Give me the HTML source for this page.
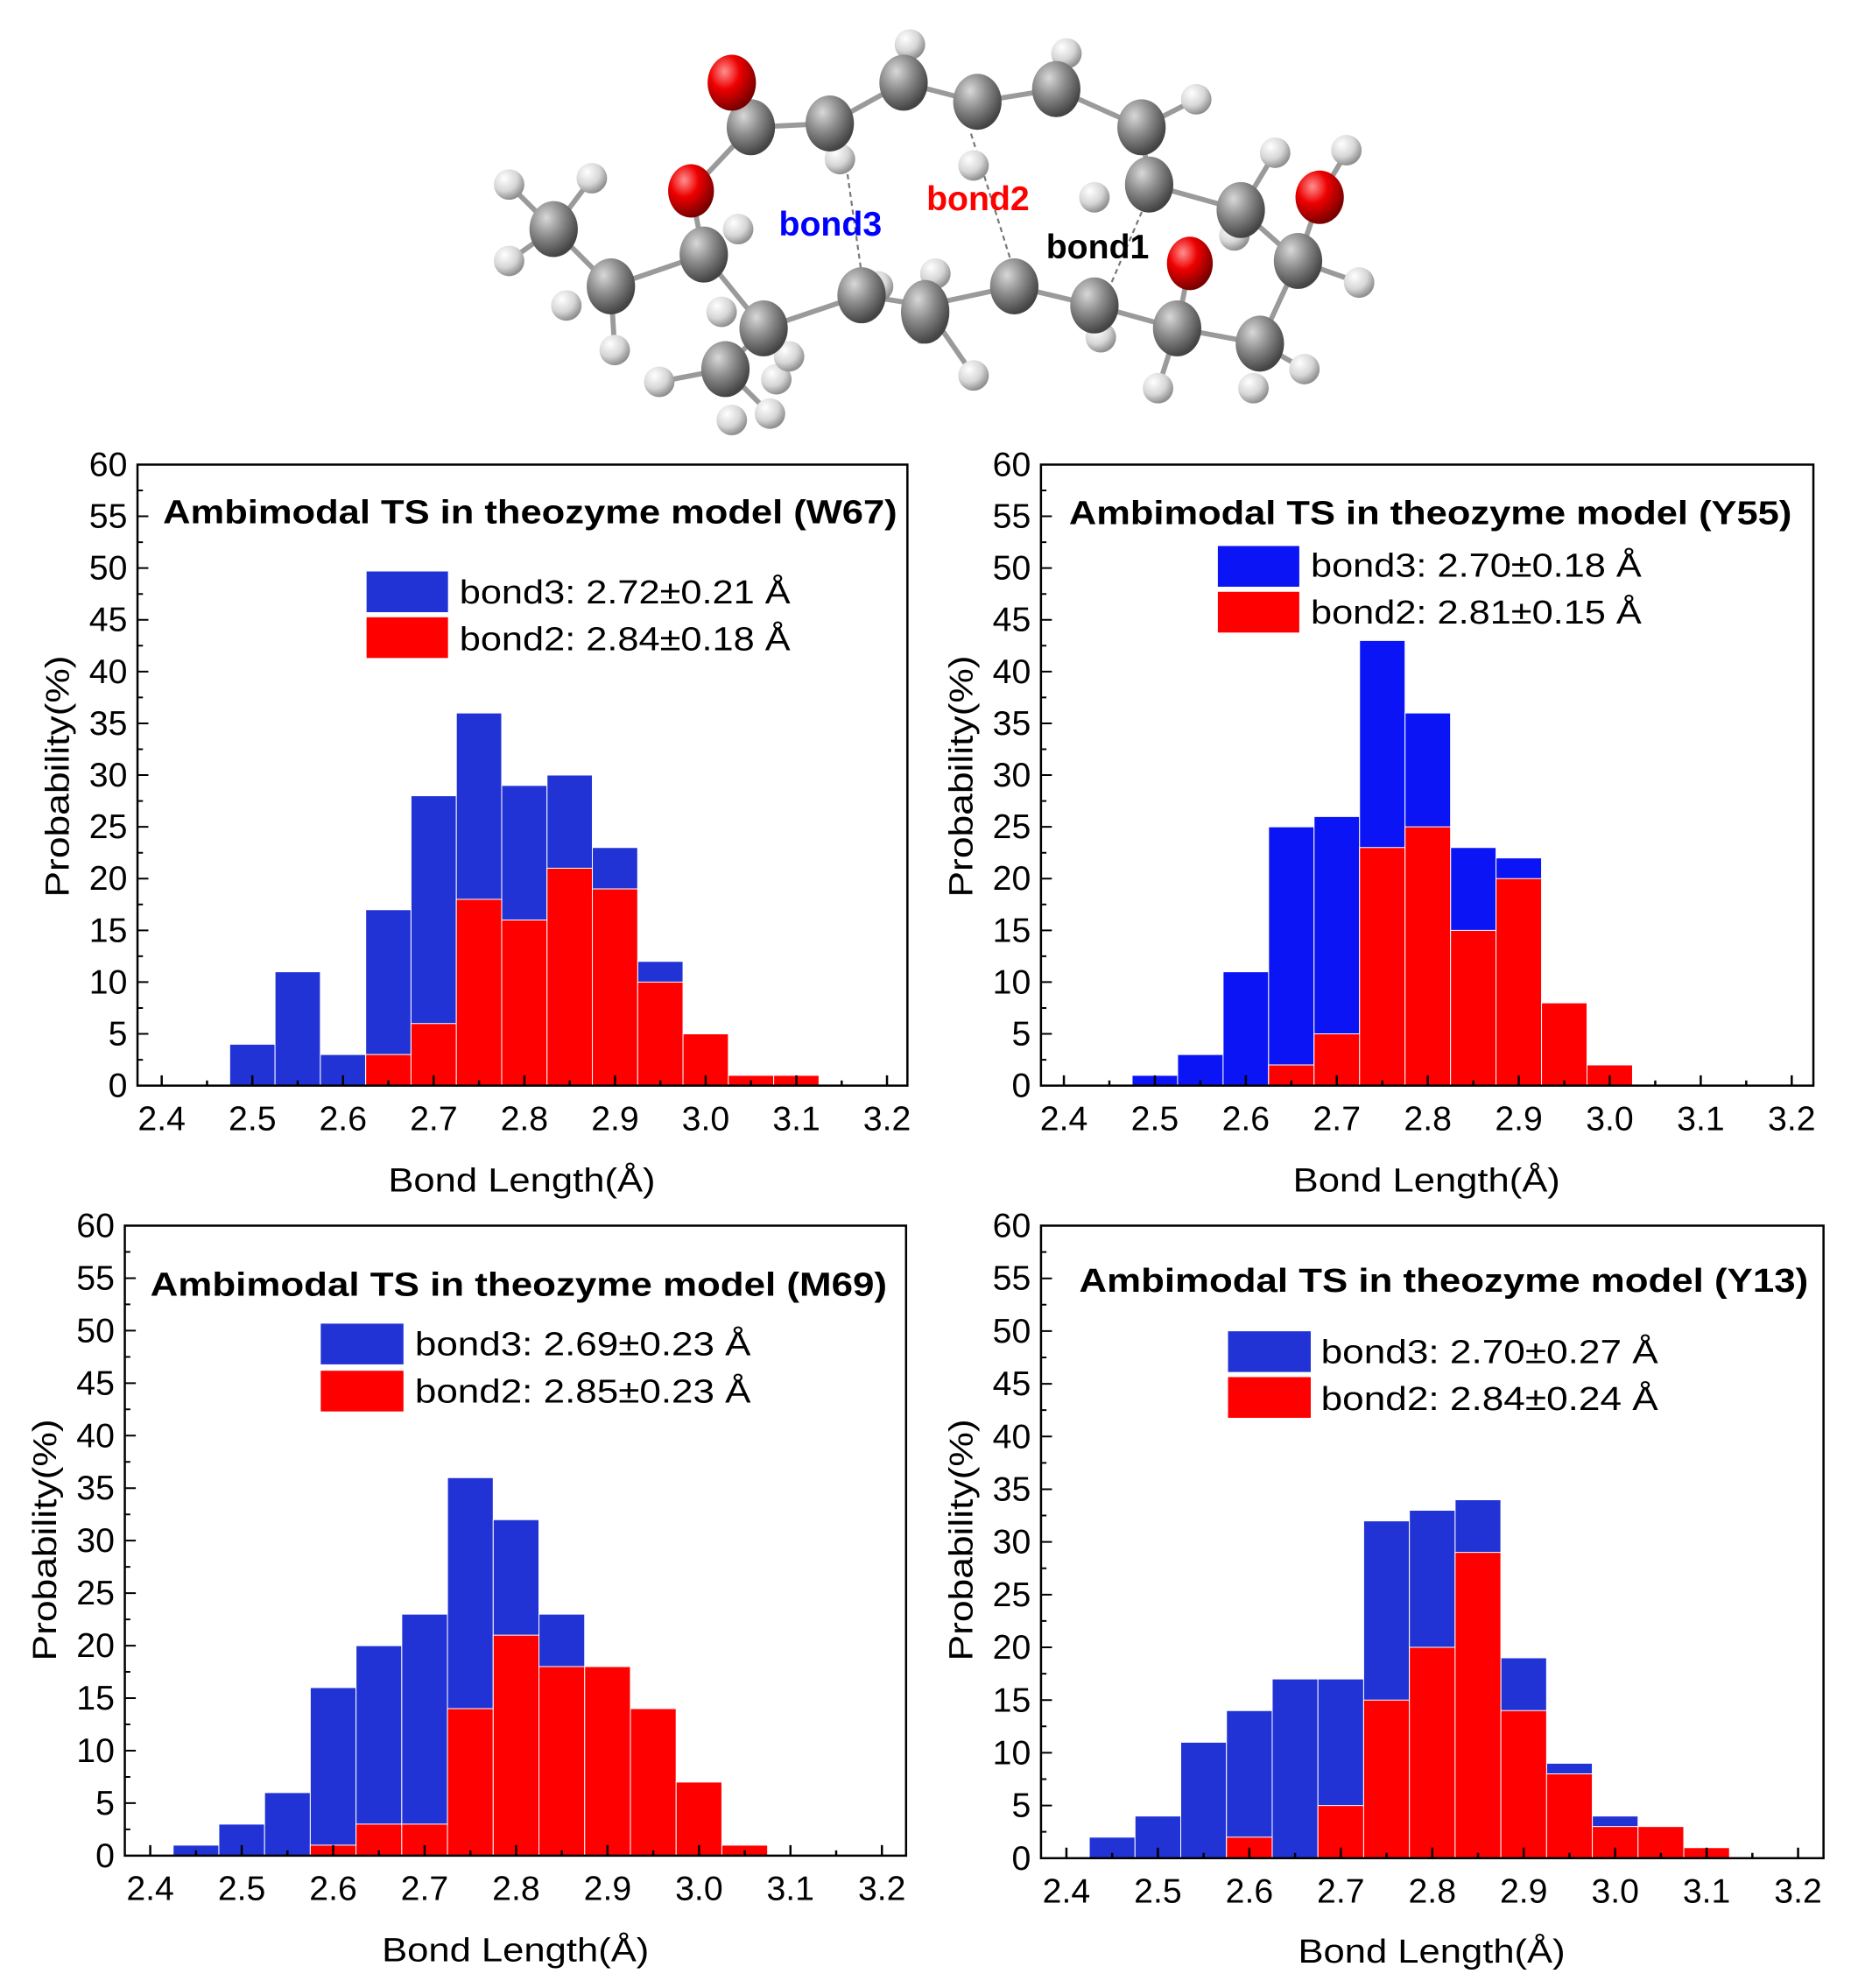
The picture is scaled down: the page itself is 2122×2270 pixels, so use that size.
<!DOCTYPE html>
<html><head><meta charset="utf-8"><style>html,body{margin:0;padding:0;background:#fff}svg{display:block}</style></head>
<body>
<svg width="2122" height="2270" viewBox="0 0 1460 1562" xmlns="http://www.w3.org/2000/svg" font-family="Liberation Sans, Arial, sans-serif">
<defs>
<radialGradient id="gC" cx="35%" cy="30%" r="70%"><stop offset="0" stop-color="#d8d8d8"/><stop offset="0.5" stop-color="#8a8a8a"/><stop offset="1" stop-color="#444"/></radialGradient>
<radialGradient id="gH" cx="35%" cy="30%" r="70%"><stop offset="0" stop-color="#fff"/><stop offset="0.6" stop-color="#d6d6d6"/><stop offset="1" stop-color="#909090"/></radialGradient>
<radialGradient id="gO" cx="35%" cy="30%" r="70%"><stop offset="0" stop-color="#ff9090"/><stop offset="0.45" stop-color="#ee0000"/><stop offset="1" stop-color="#7a0000"/></radialGradient>
</defs>
<rect width="1460" height="1562" fill="#fff"/>

<!-- molecule -->
<g stroke="#9a9a9a" stroke-width="4" fill="none">
<polyline points="575,65 590,100 652,97 710,65 768,80 830,70 897,100 903,145 975,165 1020,205 990,270 925,258 860,240 797,225 727,240 677,232 600,258 570,290"/>
<polyline points="590,100 543,150 553,200 600,258"/>
<polyline points="553,200 480,225 435,180"/>
<polyline points="1037,155 1020,205"/>
<polyline points="925,258 935,207"/>
<line x1="480" y1="225" x2="483" y2="275"/><line x1="435" y1="180" x2="400" y2="145"/><line x1="435" y1="180" x2="465" y2="140"/><line x1="435" y1="180" x2="400" y2="205"/>
<line x1="727" y1="240" x2="765" y2="295"/><line x1="727" y1="240" x2="723" y2="270"/><line x1="570" y1="290" x2="518" y2="300"/><line x1="570" y1="290" x2="605" y2="325"/>
<line x1="990" y1="270" x2="1025" y2="290"/><line x1="925" y1="258" x2="910" y2="305"/><line x1="1020" y1="205" x2="1068" y2="222"/><line x1="1037" y1="155" x2="1058" y2="120"/>
<line x1="710" y1="65" x2="715" y2="35"/><line x1="830" y1="70" x2="838" y2="42"/><line x1="897" y1="100" x2="940" y2="78"/><line x1="975" y1="165" x2="1002" y2="120"/>
</g>
<g stroke="#777" stroke-width="1.5" stroke-dasharray="4,3"><line x1="665" y1="130" x2="678" y2="222"/><line x1="763" y1="105" x2="795" y2="207"/><line x1="900" y1="160" x2="870" y2="230"/></g>
<g fill="url(#gH)">
<circle cx="715" cy="35" r="12"/><circle cx="838" cy="42" r="12"/><circle cx="940" cy="78" r="12"/><circle cx="1002" cy="120" r="12"/><circle cx="1058" cy="118" r="12"/><circle cx="1068" cy="222" r="12"/><circle cx="1025" cy="290" r="12"/><circle cx="985" cy="305" r="12"/><circle cx="910" cy="305" r="12"/><circle cx="865" cy="265" r="12"/><circle cx="860" cy="155" r="12"/><circle cx="765" cy="295" r="12"/><circle cx="605" cy="325" r="12"/><circle cx="518" cy="300" r="12"/><circle cx="483" cy="275" r="12"/><circle cx="445" cy="240" r="12"/><circle cx="400" cy="205" r="12"/><circle cx="400" cy="145" r="12"/><circle cx="465" cy="140" r="12"/><circle cx="580" cy="180" r="12"/><circle cx="567" cy="245" r="12"/><circle cx="610" cy="298" r="12"/><circle cx="660" cy="125" r="12"/><circle cx="765" cy="130" r="12"/><circle cx="970" cy="185" r="12"/><circle cx="690" cy="225" r="12"/><circle cx="735" cy="215" r="12"/><circle cx="575" cy="330" r="12"/><circle cx="620" cy="280" r="12"/>
</g>
<g fill="url(#gC)">
<ellipse cx="590" cy="100" rx="19" ry="22"/><ellipse cx="652" cy="97" rx="19" ry="22"/><ellipse cx="710" cy="65" rx="19" ry="22"/><ellipse cx="768" cy="80" rx="19" ry="22"/><ellipse cx="830" cy="70" rx="19" ry="22"/><ellipse cx="897" cy="100" rx="19" ry="22"/><ellipse cx="903" cy="145" rx="19" ry="22"/><ellipse cx="975" cy="165" rx="19" ry="22"/><ellipse cx="1020" cy="205" rx="19" ry="22"/><ellipse cx="990" cy="270" rx="19" ry="22"/><ellipse cx="925" cy="258" rx="19" ry="22"/><ellipse cx="860" cy="240" rx="19" ry="22"/><ellipse cx="797" cy="225" rx="19" ry="22"/><ellipse cx="727" cy="245" rx="19" ry="25"/><ellipse cx="677" cy="232" rx="19" ry="22"/><ellipse cx="600" cy="258" rx="19" ry="22"/><ellipse cx="570" cy="290" rx="19" ry="22"/><ellipse cx="553" cy="200" rx="19" ry="22"/><ellipse cx="480" cy="225" rx="19" ry="22"/><ellipse cx="435" cy="180" rx="19" ry="22"/>
</g>
<g fill="url(#gO)"><ellipse cx="575" cy="65" rx="19" ry="22"/><ellipse cx="543" cy="150" rx="18" ry="21"/><ellipse cx="935" cy="207" rx="18" ry="21"/><ellipse cx="1037" cy="155" rx="19" ry="21"/></g>
<g font-weight="bold" font-size="27"><text x="612" y="185" fill="#0000ff">bond3</text><text x="728" y="165" fill="#ff0000">bond2</text><text x="822" y="203" fill="#000">bond1</text></g>

<!-- TL chart -->
<g transform="translate(127,853) scale(7.125,-8.1333)">
<g fill="#2233d6" stroke="#fff" stroke-width="1">
<rect x="7.5" y="0" width="5" height="4" vector-effect="non-scaling-stroke"/><rect x="12.5" y="0" width="5" height="11" vector-effect="non-scaling-stroke"/><rect x="17.5" y="0" width="5" height="3" vector-effect="non-scaling-stroke"/><rect x="22.5" y="0" width="5" height="17" vector-effect="non-scaling-stroke"/><rect x="27.5" y="0" width="5" height="28" vector-effect="non-scaling-stroke"/><rect x="32.5" y="0" width="5" height="36" vector-effect="non-scaling-stroke"/><rect x="37.5" y="0" width="5" height="29" vector-effect="non-scaling-stroke"/><rect x="42.5" y="0" width="5" height="30" vector-effect="non-scaling-stroke"/><rect x="47.5" y="0" width="5" height="23" vector-effect="non-scaling-stroke"/><rect x="52.5" y="0" width="5" height="12" vector-effect="non-scaling-stroke"/>
</g>
<g fill="#ff0000" stroke="#fff" stroke-width="1">
<rect x="22.5" y="0" width="5" height="3" vector-effect="non-scaling-stroke"/><rect x="27.5" y="0" width="5" height="6" vector-effect="non-scaling-stroke"/><rect x="32.5" y="0" width="5" height="18" vector-effect="non-scaling-stroke"/><rect x="37.5" y="0" width="5" height="16" vector-effect="non-scaling-stroke"/><rect x="42.5" y="0" width="5" height="21" vector-effect="non-scaling-stroke"/><rect x="47.5" y="0" width="5" height="19" vector-effect="non-scaling-stroke"/><rect x="52.5" y="0" width="5" height="10" vector-effect="non-scaling-stroke"/><rect x="57.5" y="0" width="5" height="5" vector-effect="non-scaling-stroke"/><rect x="62.5" y="0" width="5" height="1" vector-effect="non-scaling-stroke"/><rect x="67.5" y="0" width="5" height="1" vector-effect="non-scaling-stroke"/>
</g>
<path d="M0,0V1M10,0V1M20,0V1M30,0V1M40,0V1M50,0V1M60,0V1M70,0V1M80,0V1M5,0V.5M15,0V.5M25,0V.5M35,0V.5M45,0V.5M55,0V.5M65,0V.5M75,0V.5" stroke="#000" stroke-width="2.5" vector-effect="non-scaling-stroke" fill="none"/>
<path d="M-2.67,5h1.2M-2.67,10h1.2M-2.67,15h1.2M-2.67,20h1.2M-2.67,25h1.2M-2.67,30h1.2M-2.67,35h1.2M-2.67,40h1.2M-2.67,45h1.2M-2.67,50h1.2M-2.67,55h1.2M-2.67,2.5h.6M-2.67,7.5h.6M-2.67,12.5h.6M-2.67,17.5h.6M-2.67,22.5h.6M-2.67,27.5h.6M-2.67,32.5h.6M-2.67,37.5h.6M-2.67,42.5h.6M-2.67,47.5h.6M-2.67,52.5h.6M-2.67,57.5h.6" stroke="#000" stroke-width="2" vector-effect="non-scaling-stroke" fill="none"/>
<rect x="-2.67" y="0" width="84.92" height="60" fill="none" stroke="#000" stroke-width="2.5" vector-effect="non-scaling-stroke"/>
</g>
<g font-size="27" text-anchor="end" dominant-baseline="central">
<text x="100" y="853">0</text><text x="100" y="812.3">5</text><text x="100" y="771.7">10</text><text x="100" y="731">15</text><text x="100" y="690.3">20</text><text x="100" y="649.7">25</text><text x="100" y="609">30</text><text x="100" y="568.3">35</text><text x="100" y="527.7">40</text><text x="100" y="487">45</text><text x="100" y="446.3">50</text><text x="100" y="405.7">55</text><text x="100" y="365">60</text>
</g>
<g font-size="27" text-anchor="middle">
<text x="127" y="888">2.4</text><text x="198.3" y="888">2.5</text><text x="269.5" y="888">2.6</text><text x="340.8" y="888">2.7</text><text x="412" y="888">2.8</text><text x="483.3" y="888">2.9</text><text x="554.5" y="888">3.0</text><text x="625.8" y="888">3.1</text><text x="697" y="888">3.2</text>
</g>
<text x="305" y="936" font-size="26" textLength="210" lengthAdjust="spacingAndGlyphs">Bond Length(Å)</text>
<text transform="translate(54,610) rotate(-90)" font-size="26" text-anchor="middle" textLength="190" lengthAdjust="spacingAndGlyphs">Probability(%)</text>
<text x="128" y="411" font-size="26" font-weight="bold" textLength="577" lengthAdjust="spacingAndGlyphs">Ambimodal TS in theozyme model (W67)</text>
<rect x="288" y="449" width="64" height="32" fill="#2233d6"/><rect x="288" y="485" width="64" height="32" fill="#ff0000"/>
<text x="361" y="474" font-size="26" textLength="260" lengthAdjust="spacingAndGlyphs">bond3: 2.72±0.21 Å</text>
<text x="361" y="511" font-size="26" textLength="260" lengthAdjust="spacingAndGlyphs">bond2: 2.84±0.18 Å</text>

<!-- TR chart -->
<g transform="translate(836,853) scale(7.15,-8.1333)">
<g fill="#0a14f5" stroke="#fff" stroke-width="1">
<rect x="7.5" y="0" width="5" height="1" vector-effect="non-scaling-stroke"/><rect x="12.5" y="0" width="5" height="3" vector-effect="non-scaling-stroke"/><rect x="17.5" y="0" width="5" height="11" vector-effect="non-scaling-stroke"/><rect x="22.5" y="0" width="5" height="25" vector-effect="non-scaling-stroke"/><rect x="27.5" y="0" width="5" height="26" vector-effect="non-scaling-stroke"/><rect x="32.5" y="0" width="5" height="43" vector-effect="non-scaling-stroke"/><rect x="37.5" y="0" width="5" height="36" vector-effect="non-scaling-stroke"/><rect x="42.5" y="0" width="5" height="23" vector-effect="non-scaling-stroke"/><rect x="47.5" y="0" width="5" height="22" vector-effect="non-scaling-stroke"/>
</g>
<g fill="#ff0000" stroke="#fff" stroke-width="1">
<rect x="22.5" y="0" width="5" height="2" vector-effect="non-scaling-stroke"/><rect x="27.5" y="0" width="5" height="5" vector-effect="non-scaling-stroke"/><rect x="32.5" y="0" width="5" height="23" vector-effect="non-scaling-stroke"/><rect x="37.5" y="0" width="5" height="25" vector-effect="non-scaling-stroke"/><rect x="42.5" y="0" width="5" height="15" vector-effect="non-scaling-stroke"/><rect x="47.5" y="0" width="5" height="20" vector-effect="non-scaling-stroke"/><rect x="52.5" y="0" width="5" height="8" vector-effect="non-scaling-stroke"/><rect x="57.5" y="0" width="5" height="2" vector-effect="non-scaling-stroke"/>
</g>
<path d="M0,0V1M10,0V1M20,0V1M30,0V1M40,0V1M50,0V1M60,0V1M70,0V1M80,0V1M5,0V.5M15,0V.5M25,0V.5M35,0V.5M45,0V.5M55,0V.5M65,0V.5M75,0V.5" stroke="#000" stroke-width="2.5" vector-effect="non-scaling-stroke" fill="none"/>
<path d="M-2.52,5h1.2M-2.52,10h1.2M-2.52,15h1.2M-2.52,20h1.2M-2.52,25h1.2M-2.52,30h1.2M-2.52,35h1.2M-2.52,40h1.2M-2.52,45h1.2M-2.52,50h1.2M-2.52,55h1.2M-2.52,2.5h.6M-2.52,7.5h.6M-2.52,12.5h.6M-2.52,17.5h.6M-2.52,22.5h.6M-2.52,27.5h.6M-2.52,32.5h.6M-2.52,37.5h.6M-2.52,42.5h.6M-2.52,47.5h.6M-2.52,52.5h.6M-2.52,57.5h.6" stroke="#000" stroke-width="2" vector-effect="non-scaling-stroke" fill="none"/>
<rect x="-2.52" y="0" width="84.9" height="60" fill="none" stroke="#000" stroke-width="2.5" vector-effect="non-scaling-stroke"/>
</g>
<g font-size="27" text-anchor="end" dominant-baseline="central">
<text x="810" y="853">0</text><text x="810" y="812.3">5</text><text x="810" y="771.7">10</text><text x="810" y="731">15</text><text x="810" y="690.3">20</text><text x="810" y="649.7">25</text><text x="810" y="609">30</text><text x="810" y="568.3">35</text><text x="810" y="527.7">40</text><text x="810" y="487">45</text><text x="810" y="446.3">50</text><text x="810" y="405.7">55</text><text x="810" y="365">60</text>
</g>
<g font-size="27" text-anchor="middle">
<text x="836" y="888">2.4</text><text x="907.5" y="888">2.5</text><text x="979" y="888">2.6</text><text x="1050.5" y="888">2.7</text><text x="1122" y="888">2.8</text><text x="1193.5" y="888">2.9</text><text x="1265" y="888">3.0</text><text x="1336.5" y="888">3.1</text><text x="1408" y="888">3.2</text>
</g>
<text x="1016" y="936" font-size="26" textLength="210" lengthAdjust="spacingAndGlyphs">Bond Length(Å)</text>
<text transform="translate(764,610) rotate(-90)" font-size="26" text-anchor="middle" textLength="190" lengthAdjust="spacingAndGlyphs">Probability(%)</text>
<text x="840" y="412" font-size="26" font-weight="bold" textLength="568" lengthAdjust="spacingAndGlyphs">Ambimodal TS in theozyme model (Y55)</text>
<rect x="957" y="429" width="64" height="32" fill="#0a14f5"/><rect x="957" y="465" width="64" height="32" fill="#ff0000"/>
<text x="1030" y="453" font-size="26" textLength="260" lengthAdjust="spacingAndGlyphs">bond3: 2.70±0.18 Å</text>
<text x="1030" y="490" font-size="26" textLength="260" lengthAdjust="spacingAndGlyphs">bond2: 2.81±0.15 Å</text>

<!-- BL chart -->
<g transform="translate(118,1458) scale(7.1875,-8.25)">
<g fill="#2233d6" stroke="#fff" stroke-width="1">
<rect x="2.5" y="0" width="5" height="1" vector-effect="non-scaling-stroke"/><rect x="7.5" y="0" width="5" height="3" vector-effect="non-scaling-stroke"/><rect x="12.5" y="0" width="5" height="6" vector-effect="non-scaling-stroke"/><rect x="17.5" y="0" width="5" height="16" vector-effect="non-scaling-stroke"/><rect x="22.5" y="0" width="5" height="20" vector-effect="non-scaling-stroke"/><rect x="27.5" y="0" width="5" height="23" vector-effect="non-scaling-stroke"/><rect x="32.5" y="0" width="5" height="36" vector-effect="non-scaling-stroke"/><rect x="37.5" y="0" width="5" height="32" vector-effect="non-scaling-stroke"/><rect x="42.5" y="0" width="5" height="23" vector-effect="non-scaling-stroke"/>
</g>
<g fill="#ff0000" stroke="#fff" stroke-width="1">
<rect x="17.5" y="0" width="5" height="1" vector-effect="non-scaling-stroke"/><rect x="22.5" y="0" width="5" height="3" vector-effect="non-scaling-stroke"/><rect x="27.5" y="0" width="5" height="3" vector-effect="non-scaling-stroke"/><rect x="32.5" y="0" width="5" height="14" vector-effect="non-scaling-stroke"/><rect x="37.5" y="0" width="5" height="21" vector-effect="non-scaling-stroke"/><rect x="42.5" y="0" width="5" height="18" vector-effect="non-scaling-stroke"/><rect x="47.5" y="0" width="5" height="18" vector-effect="non-scaling-stroke"/><rect x="52.5" y="0" width="5" height="14" vector-effect="non-scaling-stroke"/><rect x="57.5" y="0" width="5" height="7" vector-effect="non-scaling-stroke"/><rect x="62.5" y="0" width="5" height="1" vector-effect="non-scaling-stroke"/>
</g>
<path d="M0,0V1M10,0V1M20,0V1M30,0V1M40,0V1M50,0V1M60,0V1M70,0V1M80,0V1M5,0V.5M15,0V.5M25,0V.5M35,0V.5M45,0V.5M55,0V.5M65,0V.5M75,0V.5" stroke="#000" stroke-width="2.5" vector-effect="non-scaling-stroke" fill="none"/>
<path d="M-2.78,5h1.2M-2.78,10h1.2M-2.78,15h1.2M-2.78,20h1.2M-2.78,25h1.2M-2.78,30h1.2M-2.78,35h1.2M-2.78,40h1.2M-2.78,45h1.2M-2.78,50h1.2M-2.78,55h1.2M-2.78,2.5h.6M-2.78,7.5h.6M-2.78,12.5h.6M-2.78,17.5h.6M-2.78,22.5h.6M-2.78,27.5h.6M-2.78,32.5h.6M-2.78,37.5h.6M-2.78,42.5h.6M-2.78,47.5h.6M-2.78,52.5h.6M-2.78,57.5h.6" stroke="#000" stroke-width="2" vector-effect="non-scaling-stroke" fill="none"/>
<rect x="-2.78" y="0" width="85.42" height="60" fill="none" stroke="#000" stroke-width="2.5" vector-effect="non-scaling-stroke"/>
</g>
<g font-size="27" text-anchor="end" dominant-baseline="central">
<text x="90" y="1458">0</text><text x="90" y="1416.75">5</text><text x="90" y="1375.5">10</text><text x="90" y="1334.25">15</text><text x="90" y="1293">20</text><text x="90" y="1251.75">25</text><text x="90" y="1210.5">30</text><text x="90" y="1169.25">35</text><text x="90" y="1128">40</text><text x="90" y="1086.75">45</text><text x="90" y="1045.5">50</text><text x="90" y="1004.25">55</text><text x="90" y="963">60</text>
</g>
<g font-size="27" text-anchor="middle">
<text x="118" y="1493">2.4</text><text x="189.9" y="1493">2.5</text><text x="261.8" y="1493">2.6</text><text x="333.6" y="1493">2.7</text><text x="405.5" y="1493">2.8</text><text x="477.4" y="1493">2.9</text><text x="549.3" y="1493">3.0</text><text x="621.1" y="1493">3.1</text><text x="693" y="1493">3.2</text>
</g>
<text x="300" y="1541" font-size="26" textLength="210" lengthAdjust="spacingAndGlyphs">Bond Length(Å)</text>
<text transform="translate(44,1210) rotate(-90)" font-size="26" text-anchor="middle" textLength="190" lengthAdjust="spacingAndGlyphs">Probability(%)</text>
<text x="118" y="1018" font-size="26" font-weight="bold" textLength="579" lengthAdjust="spacingAndGlyphs">Ambimodal TS in theozyme model (M69)</text>
<rect x="252" y="1040" width="65" height="32" fill="#2233d6"/><rect x="252" y="1077" width="65" height="32" fill="#ff0000"/>
<text x="326" y="1065" font-size="26" textLength="264" lengthAdjust="spacingAndGlyphs">bond3: 2.69±0.23 Å</text>
<text x="326" y="1102" font-size="26" textLength="264" lengthAdjust="spacingAndGlyphs">bond2: 2.85±0.23 Å</text>

<!-- BR chart -->
<g transform="translate(838,1460) scale(7.1875,-8.283)">
<g fill="#2233d6" stroke="#fff" stroke-width="1">
<rect x="2.5" y="0" width="5" height="2" vector-effect="non-scaling-stroke"/><rect x="7.5" y="0" width="5" height="4" vector-effect="non-scaling-stroke"/><rect x="12.5" y="0" width="5" height="11" vector-effect="non-scaling-stroke"/><rect x="17.5" y="0" width="5" height="14" vector-effect="non-scaling-stroke"/><rect x="22.5" y="0" width="5" height="17" vector-effect="non-scaling-stroke"/><rect x="27.5" y="0" width="5" height="17" vector-effect="non-scaling-stroke"/><rect x="32.5" y="0" width="5" height="32" vector-effect="non-scaling-stroke"/><rect x="37.5" y="0" width="5" height="33" vector-effect="non-scaling-stroke"/><rect x="42.5" y="0" width="5" height="34" vector-effect="non-scaling-stroke"/><rect x="47.5" y="0" width="5" height="19" vector-effect="non-scaling-stroke"/><rect x="52.5" y="0" width="5" height="9" vector-effect="non-scaling-stroke"/><rect x="57.5" y="0" width="5" height="4" vector-effect="non-scaling-stroke"/>
</g>
<g fill="#ff0000" stroke="#fff" stroke-width="1">
<rect x="17.5" y="0" width="5" height="2" vector-effect="non-scaling-stroke"/><rect x="27.5" y="0" width="5" height="5" vector-effect="non-scaling-stroke"/><rect x="32.5" y="0" width="5" height="15" vector-effect="non-scaling-stroke"/><rect x="37.5" y="0" width="5" height="20" vector-effect="non-scaling-stroke"/><rect x="42.5" y="0" width="5" height="29" vector-effect="non-scaling-stroke"/><rect x="47.5" y="0" width="5" height="14" vector-effect="non-scaling-stroke"/><rect x="52.5" y="0" width="5" height="8" vector-effect="non-scaling-stroke"/><rect x="57.5" y="0" width="5" height="3" vector-effect="non-scaling-stroke"/><rect x="62.5" y="0" width="5" height="3" vector-effect="non-scaling-stroke"/><rect x="67.5" y="0" width="5" height="1" vector-effect="non-scaling-stroke"/>
</g>
<path d="M0,0V1M10,0V1M20,0V1M30,0V1M40,0V1M50,0V1M60,0V1M70,0V1M80,0V1M5,0V.5M15,0V.5M25,0V.5M35,0V.5M45,0V.5M55,0V.5M65,0V.5M75,0V.5" stroke="#000" stroke-width="2.5" vector-effect="non-scaling-stroke" fill="none"/>
<path d="M-2.78,5h1.2M-2.78,10h1.2M-2.78,15h1.2M-2.78,20h1.2M-2.78,25h1.2M-2.78,30h1.2M-2.78,35h1.2M-2.78,40h1.2M-2.78,45h1.2M-2.78,50h1.2M-2.78,55h1.2M-2.78,2.5h.6M-2.78,7.5h.6M-2.78,12.5h.6M-2.78,17.5h.6M-2.78,22.5h.6M-2.78,27.5h.6M-2.78,32.5h.6M-2.78,37.5h.6M-2.78,42.5h.6M-2.78,47.5h.6M-2.78,52.5h.6M-2.78,57.5h.6" stroke="#000" stroke-width="2" vector-effect="non-scaling-stroke" fill="none"/>
<rect x="-2.78" y="0" width="85.56" height="60" fill="none" stroke="#000" stroke-width="2.5" vector-effect="non-scaling-stroke"/>
</g>
<g font-size="27" text-anchor="end" dominant-baseline="central">
<text x="810" y="1460">0</text><text x="810" y="1418.6">5</text><text x="810" y="1377.2">10</text><text x="810" y="1335.8">15</text><text x="810" y="1294.3">20</text><text x="810" y="1252.9">25</text><text x="810" y="1211.5">30</text><text x="810" y="1170.1">35</text><text x="810" y="1128.7">40</text><text x="810" y="1087.2">45</text><text x="810" y="1045.8">50</text><text x="810" y="1004.4">55</text><text x="810" y="963">60</text>
</g>
<g font-size="27" text-anchor="middle">
<text x="838" y="1495">2.4</text><text x="909.9" y="1495">2.5</text><text x="981.8" y="1495">2.6</text><text x="1053.6" y="1495">2.7</text><text x="1125.5" y="1495">2.8</text><text x="1197.4" y="1495">2.9</text><text x="1269.3" y="1495">3.0</text><text x="1341.1" y="1495">3.1</text><text x="1413" y="1495">3.2</text>
</g>
<text x="1020" y="1542" font-size="26" textLength="210" lengthAdjust="spacingAndGlyphs">Bond Length(Å)</text>
<text transform="translate(764,1210) rotate(-90)" font-size="26" text-anchor="middle" textLength="190" lengthAdjust="spacingAndGlyphs">Probability(%)</text>
<text x="848" y="1015" font-size="26" font-weight="bold" textLength="573" lengthAdjust="spacingAndGlyphs">Ambimodal TS in theozyme model (Y13)</text>
<rect x="965" y="1046" width="65" height="32" fill="#2233d6"/><rect x="965" y="1082" width="65" height="32" fill="#ff0000"/>
<text x="1038" y="1071" font-size="26" textLength="265" lengthAdjust="spacingAndGlyphs">bond3: 2.70±0.27 Å</text>
<text x="1038" y="1108" font-size="26" textLength="265" lengthAdjust="spacingAndGlyphs">bond2: 2.84±0.24 Å</text>
</svg>
</body></html>
